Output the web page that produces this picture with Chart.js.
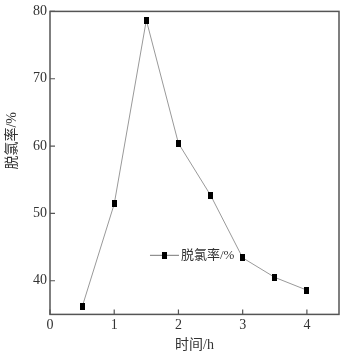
<!DOCTYPE html>
<html lang="zh">
<head>
  <meta charset="UTF-8" />
  <title>脱氯率</title>
  <script src="https://cdn.jsdelivr.net/npm/chart.js"></script>
  <style>
    body { margin: 0; background: #fff; }
    #wrap { width: 347px; height: 351px; }
  </style>
</head>
<body>
  <div id="wrap"><canvas id="c" width="347" height="351"></canvas></div>
  <script>
    // data
    const hours = [0.5, 1, 1.5, 2, 2.5, 3, 3.5, 4];
    const removal = [36.1, 51.4, 78.7, 60.4, 52.7, 43.4, 40.5, 38.6];
    const xTicks = [0, 1, 2, 3, 4];
    const yTicks = [40, 50, 60, 70, 80];
    const seriesName = '脱氯率/%';
    const xTitle = '时间/h';

    const FONT = '"Liberation Serif", "Noto Sans CJK SC", serif';
    const AXIS = '#555';
    const TEXT = '#333';

    // little black rectangle marker
    const marker = document.createElement('canvas');
    marker.width = 5; marker.height = 7;
    const mctx = marker.getContext('2d');
    mctx.fillStyle = '#000';
    mctx.fillRect(0, 0, 5, 7);

    // frame, inward ticks, y title and the legend inside the plot
    const framePlugin = {
      id: 'frame',
      afterDraw(chart) {
        const { ctx, chartArea: a, scales } = chart;
        ctx.save();
        ctx.strokeStyle = AXIS;
        ctx.lineWidth = 1.5;
        ctx.strokeRect(a.left, a.top, a.right - a.left, a.bottom - a.top);
        ctx.lineWidth = 1.2;
        ctx.beginPath();
        xTicks.forEach(v => {
          const px = scales.x.getPixelForValue(v);
          ctx.moveTo(px, a.bottom);
          ctx.lineTo(px, a.bottom - 5);
        });
        yTicks.forEach(v => {
          const py = scales.y.getPixelForValue(v);
          ctx.moveTo(a.left, py);
          ctx.lineTo(a.left + 5, py);
        });
        ctx.stroke();

        // y axis title, sits a bit above the middle like the original
        ctx.fillStyle = TEXT;
        ctx.font = '14px ' + FONT;
        ctx.textAlign = 'center';
        ctx.textBaseline = 'middle';
        ctx.save();
        ctx.translate(12, a.top + (a.bottom - a.top) * 0.427);
        ctx.rotate(-Math.PI / 2);
        ctx.fillText(seriesName, 0, 0);
        ctx.restore();

        // legend
        const lx = a.left + (a.right - a.left) * 0.346;
        const ly = a.top + (a.bottom - a.top) * 0.805;
        ctx.strokeStyle = '#777';
        ctx.lineWidth = 1;
        ctx.beginPath();
        ctx.moveTo(lx, ly);
        ctx.lineTo(lx + 29, ly);
        ctx.stroke();
        ctx.drawImage(marker, lx + 12, ly - 3.5);
        ctx.font = '13px ' + FONT;
        ctx.textAlign = 'left';
        ctx.fillText(seriesName, lx + 31, ly);
        ctx.restore();
      }
    };

    new Chart(document.getElementById('c'), {
      type: 'scatter',
      data: {
        datasets: [{
          label: seriesName,
          data: hours.map((h, i) => ({ x: h, y: removal[i] })),
          showLine: true,
          borderColor: '#999',
          borderWidth: 1,
          pointStyle: marker,
          pointRadius: 3,
          pointHoverRadius: 3
        }]
      },
      options: {
        responsive: false,
        animation: false,
        layout: { padding: { top: 10, right: 8, left: 30, bottom: -3 } },
        plugins: { legend: { display: false }, tooltip: { enabled: false } },
        scales: {
          x: {
            type: 'linear',
            min: 0,
            max: 4.5,
            afterBuildTicks: s => { s.ticks = xTicks.map(v => ({ value: v })); },
            grid: { display: false, drawTicks: false },
            border: { display: false },
            ticks: { color: TEXT, font: { family: FONT, size: 14 }, padding: 3, maxRotation: 0 },
            title: { display: true, text: xTitle, color: TEXT, font: { family: FONT, size: 14 }, padding: { top: 0, bottom: 0 } }
          },
          y: {
            min: 35,
            max: 80,
            afterBuildTicks: s => { s.ticks = yTicks.map(v => ({ value: v })); },
            grid: { display: false, drawTicks: false },
            border: { display: false },
            ticks: { color: TEXT, font: { family: FONT, size: 14 }, padding: 3 }
          }
        }
      },
      plugins: [framePlugin]
    });
  </script>
</body>
</html>
